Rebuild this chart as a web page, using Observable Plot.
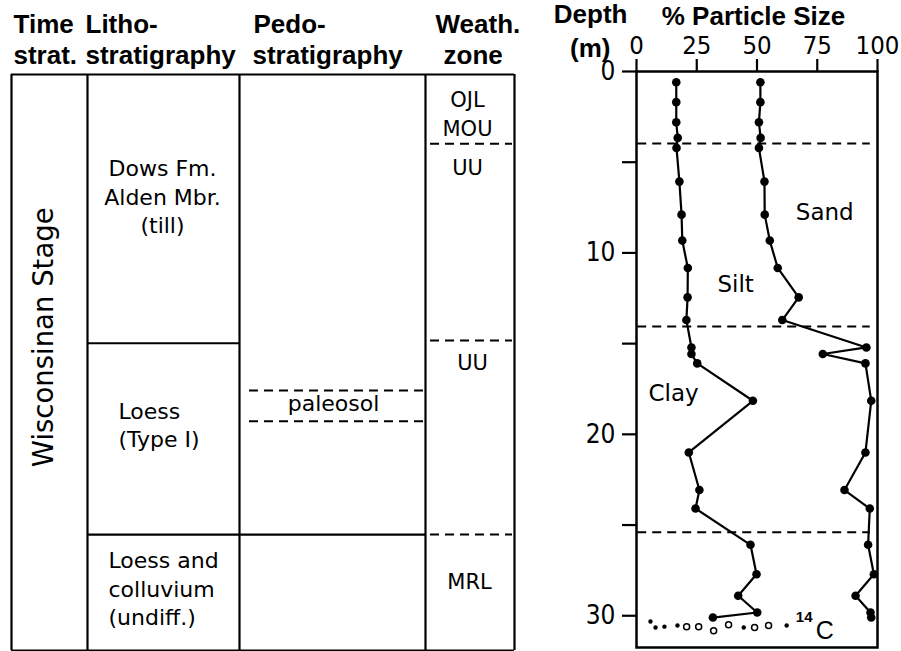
<!DOCTYPE html>
<html><head><meta charset="utf-8">
<script src="https://cdn.jsdelivr.net/npm/d3@7"></script>
<script src="https://cdn.jsdelivr.net/npm/@observablehq/plot@0.6"></script>
<style>
html,body{margin:0;padding:0;background:#fff;}
#chart{position:relative;width:901px;height:651px;overflow:hidden;background:#fff;}
#chart svg{position:absolute;top:0;}
</style></head><body><div id="chart"></div>
<script>
// ---------- particle-size profile (depth in m, cumulative %) ----------
const sampleDepth = [0.59,1.69,2.80,3.66,4.21,6.07,7.89,9.32,10.83,12.45,13.70,15.21,15.57,16.09,18.15,21.0,23.07,24.09,26.09,27.71,28.90,29.82,30.10];
const clayPct     = [16.5,16.5,16.5,17.1,16.6,17.8,18.7,19.0,21.3,21.2,20.7,22.8,22.8,25.2,48.3,21.7,26.1,24.5,47.3,49.8,42.2,50.1,31.7];
const claySiltPct = [51.4,51.4,50.8,51.5,50.8,53.1,53.2,55.3,58.6,67.3,60.5,95.4,77.3,95.0,97.4,95.0,86.3,96.8,96.1,98.5,90.9,97.1,97.4];
const profileBreaks = [3.97, 14.06, 25.4];
const pctTicks = [0, 25, 50, 75, 100];
const depthTicks = [0, 5, 10, 15, 20, 25, 30];
const fractionNames = ["Sand", "Silt", "Clay"];
const fractionAt = [[66.1, 8.21], [33.6, 12.18], [5.0, 18.19]]; // [% , depth]
// 14C sample horizon symbols
const c14Pct   = [5.8, 7.9, 11.6, 17.0, 20.8, 25.8, 32.0, 38.2, 44.5, 49.0, 54.8, 62.3];
const c14Depth = [30.32, 30.65, 30.6, 30.54, 30.6, 30.6, 30.82, 30.49, 30.65, 30.65, 30.54, 30.54];
const c14Kind  = ["f","f","f","f","o","o","o","o","f","o","o","f"];

// ---------- stratigraphic column ----------
const headerRow1 = ["Time", "Litho-", "Pedo-", "Weath."];
const headerRow2 = ["strat.", "stratigraphy", "stratigraphy", "zone"];
const timeUnit = "Wisconsinan Stage";
const lithoUnits = ["Dows Fm.\nAlden Mbr.\n(till)", "Loess\n(Type I)", "Loess and\ncolluvium\n(undiff.)"];
const lithoBreaks = [14.93, 25.56];
const pedoUnit = "paleosol";
const pedoBreaks = [17.56, 19.26];
const weathZones = ["OJL\nMOU", "UU", "UU", "MRL"];
const weathBreaks = [3.85, 14.78, 25.56];
const columnBottom = 32;

// ---------- layout (pixels) ----------
const colEdges = [11, 87, 239, 425, 514];
const head1X = [13, 85, 253, 435];
const head2X = [13, 85, 252, 443];
const lithoLabelX = [162, 118, 108];
const lithoCentered = [true, false, false];
const lithoLabelDepth = [8.83, 20.72, 30.61];
const weathLabelX = [467, 467, 472, 469];
const weathLabelDepth = [3.39, 5.61, 16.44, 28.56];

const BODY = "'DejaVu Sans', sans-serif";
const BOLD = "'Liberation Sans', Arial, sans-serif";
const NARROW = "'Liberation Sans Narrow', 'Arial Narrow', 'DejaVu Sans Condensed', sans-serif";
const SW = 2.2;

const litho = lithoUnits.map((t, i) => ({text: t, x: lithoLabelX[i], depth: lithoLabelDepth[i], centered: lithoCentered[i]}));

// ---------- left: stratigraphic table ----------
const left = Plot.plot({
  width: 530, height: 651,
  marginLeft: 0, marginRight: 0, marginTop: 74, marginBottom: 1,
  x: {type: "identity", axis: null},
  y: {domain: [0, columnBottom], reverse: true, axis: null},
  style: {background: "transparent", fontFamily: BODY, color: "#000", overflow: "visible"},
  marks: [
    Plot.ruleX(colEdges, {x: d => d, y1: 0, y2: columnBottom, strokeWidth: SW}),
    Plot.ruleY([0, columnBottom], {y: d => d, x1: colEdges[0], x2: colEdges[4], strokeWidth: SW}),
    Plot.ruleY(lithoBreaks, {y: d => d, x1: colEdges[1], x2: (d, i) => i === 0 ? colEdges[2] : colEdges[3], strokeWidth: SW}),
    Plot.ruleY(pedoBreaks, {y: d => d, x1: colEdges[2] + 10, x2: colEdges[3] - 2, strokeWidth: 2, strokeDasharray: "9,6"}),
    Plot.ruleY(weathBreaks, {y: d => d, x1: colEdges[3] + 5, x2: colEdges[4] - 2, strokeWidth: 2, strokeDasharray: "9,6"}),
    Plot.text(headerRow1, {text: d => d, x: (d, i) => head1X[i], frameAnchor: "top", dy: -42, textAnchor: "start", lineAnchor: "bottom", fontSize: 26, fontWeight: "bold", fontFamily: BOLD}),
    Plot.text(headerRow2, {text: d => d, x: (d, i) => head2X[i], frameAnchor: "top", dy: -11, textAnchor: "start", lineAnchor: "bottom", fontSize: 26, fontWeight: "bold", fontFamily: BOLD}),
    Plot.text([timeUnit], {text: d => d, x: 44, y: 14.6, rotate: -90, fontSize: 27.5, lineAnchor: "middle"}),
    Plot.text(litho.filter(d => d.centered), {text: "text", x: "x", y: "depth", textAnchor: "middle", lineAnchor: "bottom", lineHeight: 1.3, fontSize: 22}),
    Plot.text(litho.filter(d => !d.centered), {text: "text", x: "x", y: "depth", textAnchor: "start", lineAnchor: "bottom", lineHeight: 1.3, fontSize: 22}),
    Plot.text([pedoUnit], {text: d => d, x: 333, y: 18.72, lineAnchor: "bottom", fontSize: 22}),
    Plot.text(weathZones, {text: d => d, x: (d, i) => weathLabelX[i], y: (d, i) => weathLabelDepth[i], lineAnchor: "bottom", lineHeight: 1.36, fontSize: 21})
  ]
});

// ---------- right: particle size profile ----------
const rows = sampleDepth.map((d, i) => ({depth: d, clay: clayPct[i], claySilt: claySiltPct[i]}));
const c14 = c14Pct.map((p, i) => ({pct: p, depth: c14Depth[i], kind: c14Kind[i]}));
const fr = fractionNames.map((n, i) => ({name: n, pct: fractionAt[i][0], depth: fractionAt[i][1]}));

const right = Plot.plot({
  width: 371, height: 651,
  marginLeft: 106, marginRight: 24, marginTop: 71, marginBottom: 4,
  x: {domain: [0, 100]},
  y: {domain: [0, 31.75], reverse: true},
  style: {background: "transparent", fontFamily: BODY, color: "#000", overflow: "visible"},
  marks: [
    Plot.ruleY(profileBreaks, {y: d => d, x1: 0.5, x2: 97, strokeWidth: 2, strokeDasharray: "9,6"}),
    Plot.axisX({anchor: "top", ticks: pctTicks, tickSize: 13, tickPadding: 5, fontSize: 25.5, fontFamily: NARROW, strokeWidth: SW, label: null}),
    Plot.axisY({anchor: "left", ticks: depthTicks, tickSize: 14, tickPadding: 7, tickFormat: d => d % 10 === 0 ? String(d) : "", fontSize: 26, fontFamily: NARROW, strokeWidth: SW, label: null}),
    Plot.frame({stroke: "#000", strokeWidth: 2.5}),
    Plot.line(rows, {x: "clay", y: "depth", strokeWidth: SW}),
    Plot.line(rows, {x: "claySilt", y: "depth", strokeWidth: SW}),
    Plot.dot(rows, {x: "clay", y: "depth", r: 4.3, fill: "#000", stroke: "none"}),
    Plot.dot(rows, {x: "claySilt", y: "depth", r: 4.3, fill: "#000", stroke: "none"}),
    Plot.dot(c14.filter(d => d.kind === "f"), {x: "pct", y: "depth", r: 2.2, fill: "#000", stroke: "none"}),
    Plot.dot(c14.filter(d => d.kind === "o"), {x: "pct", y: "depth", r: 3, fill: "none", stroke: "#000", strokeWidth: 1.5}),
    Plot.text(fr, {x: "pct", y: "depth", text: "name", textAnchor: "start", lineAnchor: "bottom", fontSize: 23}),
    Plot.text(["14"], {text: d => d, x: 66.1, y: 30.37, textAnchor: "start", lineAnchor: "bottom", fontSize: 15, fontWeight: "bold", fontFamily: BOLD}),
    Plot.text(["C"], {text: d => d, x: 74.4, y: 31.26, textAnchor: "start", lineAnchor: "bottom", fontSize: 25, fontFamily: BOLD}),
    Plot.text(["% Particle Size"], {text: d => d, frameAnchor: "top", dx: -3.5, dy: -47, lineAnchor: "bottom", fontSize: 26, fontWeight: "bold", fontFamily: BOLD}),
    Plot.text(["Depth"], {text: d => d, frameAnchor: "top-left", dx: -9, dy: -49, textAnchor: "end", lineAnchor: "bottom", fontSize: 26, fontWeight: "bold", fontFamily: BOLD}),
    Plot.text(["(m)"], {text: d => d, frameAnchor: "top-left", dx: -26, dy: -15, textAnchor: "end", lineAnchor: "bottom", fontSize: 26, fontWeight: "bold", fontFamily: BOLD})
  ]
});

const chart = document.getElementById("chart");
left.style.left = "0px";
right.style.left = "530px";
chart.appendChild(left);
chart.appendChild(right);
</script></body></html>
